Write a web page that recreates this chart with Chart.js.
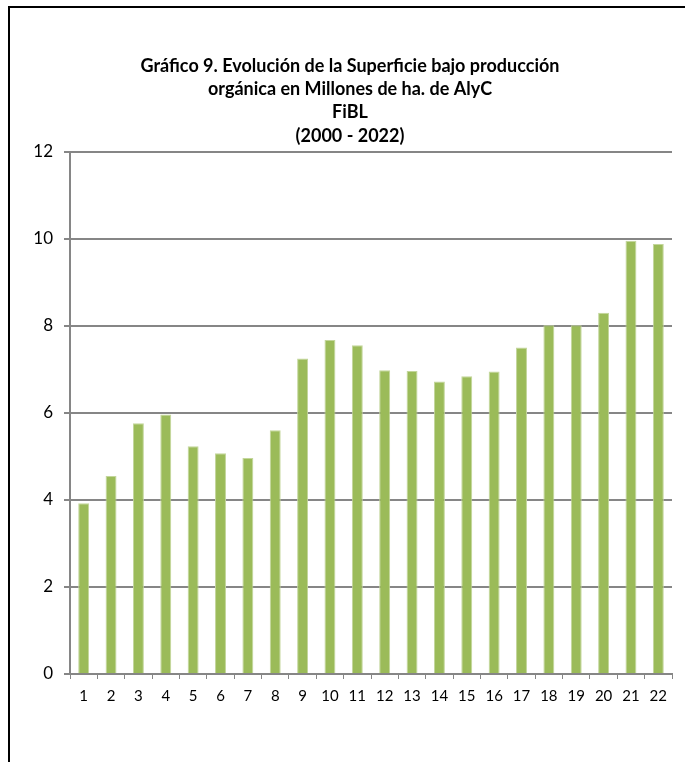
<!DOCTYPE html>
<html>
<head>
<meta charset="utf-8">
<script src="https://cdn.jsdelivr.net/npm/chart.js@4/dist/chart.umd.min.js"></script>
<style>
  html, body { margin: 0; padding: 0; background: #fff; }
  #wrap { position: relative; width: 685px; height: 762px; overflow: hidden; }
  #frame { position: absolute; left: 8px; top: 6px; width: 700px; height: 780px;
           border-left: 2px solid #000; border-top: 2px solid #000; box-sizing: border-box; }
  canvas { position: absolute; left: 0; top: 0; }
</style>
</head>
<body>
<div id="wrap">
  <div id="frame"></div>
  <canvas id="chart" width="685" height="762"></canvas>
</div>
<script>
// Categories (years 2000-2022 numbered 1..22)
const labels = ['1','2','3','4','5','6','7','8','9','10','11','12','13','14','15','16','17','18','19','20','21','22'];
// Organic area, millions of ha
const areaValues = [3.92, 4.55, 5.76, 5.96, 5.23, 5.07, 4.96, 5.60, 7.25, 7.67, 7.55, 6.98, 6.96, 6.72, 6.84, 6.95, 7.50, 8.01, 8.01, 8.30, 9.95, 9.88];
const titleLines = [
    'Gráfico 9. Evolución de la Superficie bajo producción',
    'orgánica en Millones de ha. de AlyC',
    'FiBL',
    '(2000 - 2022)'
];
const yTicks = { min: 0, max: 12, step: 2 };

const ctx = document.getElementById('chart').getContext('2d');
const chart = new Chart(ctx, {
    type: 'bar',
    data: {
        labels: labels,
        datasets: [{
            data: areaValues,
            backgroundColor: '#9BBB59',
            borderColor: '#C3D69B',
            borderWidth: { top: 1, left: 1, right: 1, bottom: 0 },
            categoryPercentage: 1.0,
            barPercentage: 0.4
        }]
    },
    options: {
        responsive: false,
        animation: false,
        layout: { padding: { left: 28, right: 13, top: 0, bottom: 0 } },
        plugins: {
            legend: { display: false },
            tooltip: { enabled: false },
            title: {
                display: true,
                text: titleLines,
                color: '#000',
                font: { family: 'Lato', size: 18, weight: 'bold', lineHeight: 1.3 },
                padding: { top: 54, bottom: 4 }
            }
        },
        scales: {
            x: {
                grid: {
                    offset: true,
                    drawOnChartArea: false,
                    drawTicks: true,
                    tickLength: 5,
                    color: '#868686',
                    lineWidth: 1
                },
                border: { color: '#868686', width: 2 },
                ticks: { color: '#000', font: { family: 'Lato', size: 15 }, padding: 8, maxRotation: 0 },
                afterFit: (scale) => { scale.height = 88; }
            },
            y: {
                min: yTicks.min,
                max: yTicks.max,
                ticks: { stepSize: yTicks.step, color: '#000', font: { family: 'Lato', size: 17 }, padding: 11 },
                grid: { color: '#868686', lineWidth: 2, drawTicks: true, tickLength: 6 },
                border: { color: '#868686', width: 2 },
                afterFit: (scale) => { scale.width = 42; }
            }
        }
    }
});
</script>
</body>
</html>
